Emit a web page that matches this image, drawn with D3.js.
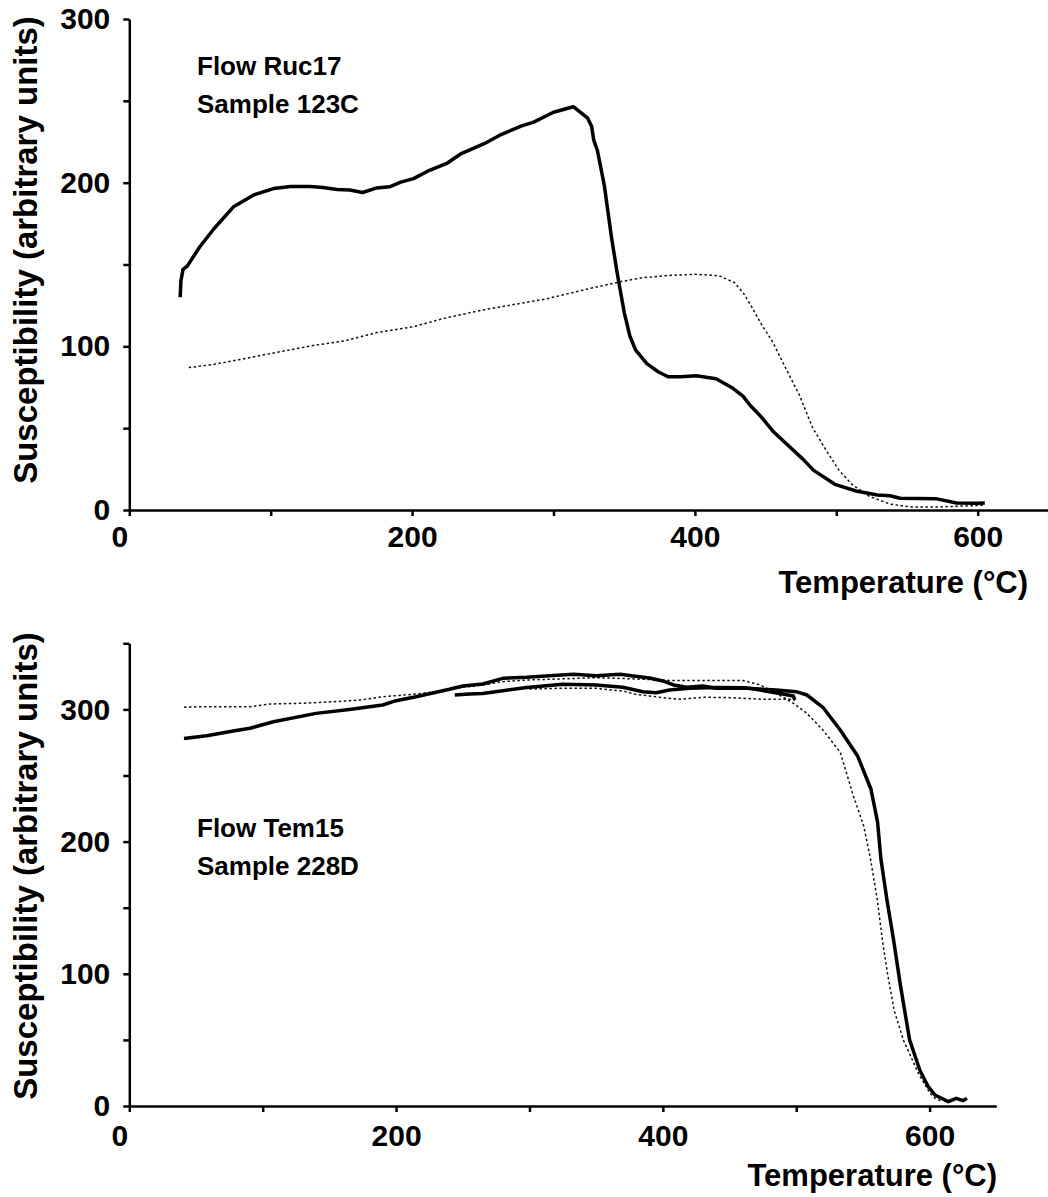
<!DOCTYPE html>
<html>
<head>
<meta charset="utf-8">
<script src="https://cdn.jsdelivr.net/npm/d3@7"></script>
<style>
  body { margin: 0; background: #fff; }
  svg text { font-family: "Liberation Sans", Arial, sans-serif; font-weight: bold; fill: #000; }
</style>
</head>
<body>
<svg id="chart" width="1048" height="1197"></svg>
<script>
// [temperature °C, susceptibility]
const ruc17Heating = [[36,130],[36.5,140],[38,147],[41,149],[50,161],[60,172],[74,185.5],[88,192.5],[102,196.4],[114,197.7],[128,197.7],[137,197],[147,195.8],[156,195.5],[165,194],[175,196.8],[184,197.5],[192,200.3],[201,202.5],[211,207],[225,212],[234,217.4],[251,223.8],[262,229],[277,234.5],[286,237],[300,243],[314,246.4],[324,239.6],[327,234.3],[328.5,225.8],[331,219.8],[336,198],[341,166.7],[345,145],[350,120.8],[354,106.3],[358,97.8],[366,89.4],[374,84.5],[381,81.4],[390,81.4],[401,82],[415,80.2],[426,74.9],[434,69.6],[439,64],[447,56.8],[455,48.3],[466,39.4],[476,31.4],[484,24.2],[499,15.7],[514,11.6],[529,9.2],[538,8.7],[545,7.2],[571,6.8],[585,4.3],[600,4.1],[605,4.3]];
const ruc17Cooling = [[42,87],[60,89],[81,92.4],[104,96.3],[130,100.5],[152,103.3],[175,108.4],[201,112],[222,117],[251,122.4],[277,126.3],[295,129],[324,135],[348,139.6],[362,141.8],[379,143.2],[400,144],[417,143.2],[428,138.9],[434,132.9],[440,124.4],[447,113.5],[455,102.7],[464,87],[474,70],[483,50.7],[493,36.2],[502,24.2],[511,15.7],[523,8.5],[538,3.6],[552,1.9],[573,1.9],[604,2.9]];

const tem15Heating = [[41,278],[58,280],[79,283.8],[90.5,285.7],[108,290.7],[140,297],[165,300],[190,303.3],[200,306.6],[215,309.6],[240,315.2],[250,317.7],[265,319.2],[280,323.5],[298,324.3],[315,325.5],[333,326.6],[350,325.5],[368,326.6],[378,325.3],[390,323.8],[400,321.5],[408,318.5],[418,316.7],[430,317.7],[440,316],[463,316],[485,314.7],[500,313.4],[508,310.9],[520,301.6],[533,284.4],[546,264.8],[556,239.8],[561,214.7],[563.5,186.8],[568,156],[573,125.5],[578,92],[585,50],[592.7,27],[599,14.6],[604,8.3],[614,3.3],[620,5.8],[625,4],[628,5.8]];
const tem15Reheating = [[244,310.9],[255,311.6],[265,312.1],[280,314.1],[298,316.5],[325,319],[350,318.5],[370,316.7],[385,313.4],[395,312.6],[405,314.7],[420,316],[440,316.5],[463,316.3],[490,311.6],[497.8,310.1],[499,307.1]];
const tem15Cooling = [[41,301.6],[53,302],[79,302],[90.5,302],[105.5,304.1],[128,304.6],[153,305.8],[173,307.1],[190,309.6],[215,311.6],[235,314.1],[250,316.7],[265,318.5],[280,321],[298,322.2],[350,324],[380,323],[405,321.9],[430,321.9],[460,321.9],[473,318.5],[485,312.2],[498,304.6],[508,297],[520,284.4],[533,267.6],[538,250.9],[543,234],[550.6,211.9],[555.7,186.8],[560.8,156],[564.6,125.5],[568.4,100.4],[573.4,72.5],[580.3,50],[591.6,24.7],[600.3,9.6],[604,6],[608,4]];
const tem15Recooling = [[300,315.4],[323,316],[350,316],[373,313.4],[378,311.6],[400,308.9],[413,307.6],[430,309.2],[450,308.9],[475,307.6],[495,307.6],[499,307.1]];

const xTicks = [0, 100, 200, 300, 400, 500, 600];
const xLabels = [0, 200, 400, 600];
const yLabels = [0, 100, 200, 300];

const svg = d3.select('#chart');

function panel(cfg) {
  const x = d3.scaleLinear().domain([0, 650]).range(cfg.xRange);
  const y = d3.scaleLinear().domain([0, cfg.yMax]).range(cfg.yRange);
  const g = svg.append('g');

  const xAxis = g.append('g')
    .attr('transform', `translate(0,${cfg.yRange[0]})`)
    .call(d3.axisBottom(x).tickValues(xTicks).tickSize(6).tickSizeOuter(0).tickPadding(cfg.xPad)
      .tickFormat(d => xLabels.includes(d) ? d : ''));
  const yAxis = g.append('g')
    .attr('transform', `translate(${cfg.xRange[0]},0)`)
    .call(d3.axisLeft(y).tickValues(d3.range(0, cfg.yMax + 1, 50)).tickSize(6).tickSizeOuter(0).tickPadding(13)
      .tickFormat(d => yLabels.includes(d) ? d : ''));

  [xAxis, yAxis].forEach(a => {
    a.select('.domain').attr('stroke', '#000').attr('stroke-width', 2.5);
    a.selectAll('.tick line').attr('stroke', '#000').attr('stroke-width', 2.5);
    a.selectAll('.tick text').style('font-size', '30px').attr('fill', '#000');
  });
  xAxis.selectAll('.tick text').filter(d => d === 0).attr('dx', -10);

  const line = d3.line().x(d => x(d[0])).y(d => y(d[1]));

  cfg.dotted.forEach(s => {
    g.append('path').datum(s).attr('d', line)
      .attr('fill', 'none').attr('stroke', '#111').attr('stroke-width', 1.5)
      .attr('stroke-dasharray', '2.5,2.5');
  });
  cfg.bold.forEach(s => {
    g.append('path').datum(s).attr('d', line)
      .attr('fill', 'none').attr('stroke', '#000').attr('stroke-width', 3.5)
      .attr('stroke-linejoin', 'round');
  });

  g.append('text').attr('x', 197).attr('y', cfg.titleY).style('font-size', '26px').text(cfg.title[0]);
  g.append('text').attr('x', 197).attr('y', cfg.titleY + 38).style('font-size', '26px').text(cfg.title[1]);

  g.append('text').attr('text-anchor', 'end').attr('x', cfg.xTitleX).attr('y', cfg.xTitleY)
    .style('font-size', '31px').text('Temperature (°C)');

  g.append('text').attr('text-anchor', 'middle')
    .attr('transform', `translate(37,${cfg.yTitleY}) rotate(-90)`)
    .style('font-size', '33px').text('Susceptibility (arbitrary units)');
}

panel({
  xRange: [129.3, 1048.4], yRange: [510, 19], yMax: 300, xPad: 10,
  bold: [ruc17Heating], dotted: [ruc17Cooling],
  title: ['Flow Ruc17', 'Sample 123C'], titleY: 75,
  xTitleX: 1028, xTitleY: 593, yTitleY: 250
});

panel({
  xRange: [129.3, 996.3], yRange: [1106, 643.3], yMax: 350, xPad: 13,
  bold: [tem15Heating, tem15Reheating], dotted: [tem15Cooling, tem15Recooling],
  title: ['Flow Tem15', 'Sample 228D'], titleY: 837,
  xTitleX: 997, xTitleY: 1186, yTitleY: 866
});
</script>
</body>
</html>
